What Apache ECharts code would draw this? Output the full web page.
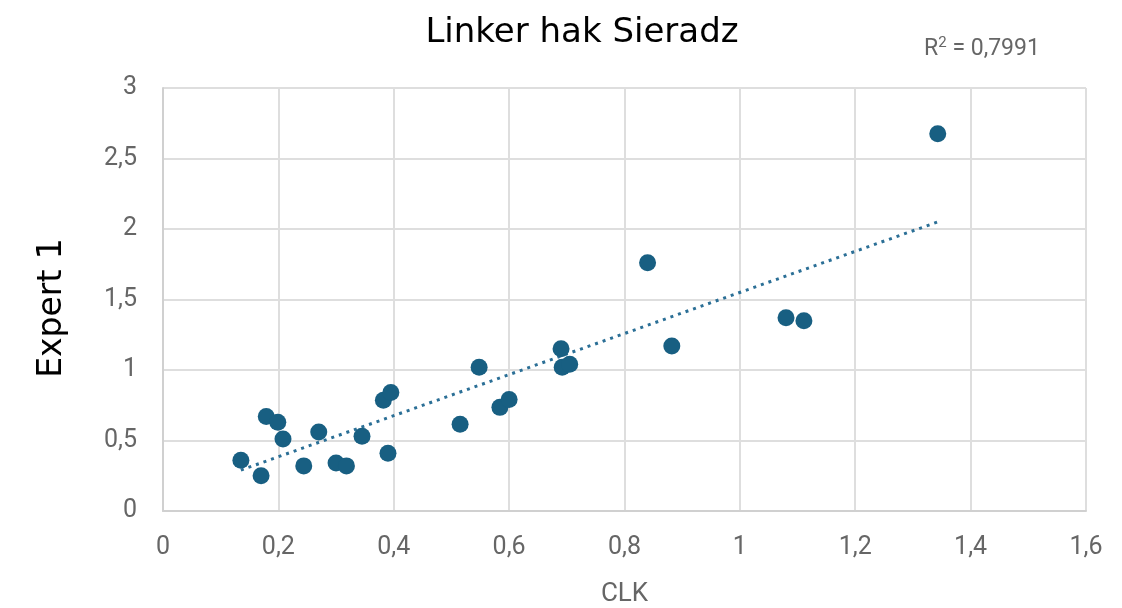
<!DOCTYPE html>
<html><head><meta charset="utf-8">
<script src="https://cdn.jsdelivr.net/npm/echarts@6/dist/echarts.min.js"></script>
<style>html,body{margin:0;padding:0;background:#fff}#c{width:1122px;height:608px}</style>
</head><body><div id="c"></div>
<script>
const clk = [0.135,0.170,0.179,0.199,0.208,0.244,0.270,0.300,0.318,0.345,0.390,0.382,0.395,0.515,0.548,0.584,0.600,0.690,0.692,0.705,0.840,0.882,1.080,1.111,1.343];
const expert1 = [0.36,0.25,0.67,0.63,0.51,0.32,0.56,0.34,0.32,0.53,0.41,0.785,0.84,0.615,1.02,0.735,0.79,1.15,1.02,1.04,1.76,1.17,1.37,1.35,2.675];
const trendX = [0.135,1.343];
const trendY = [0.29,2.05];
const xTicks = [0,0.2,0.4,0.6,0.8,1,1.2,1.4,1.6];
const yTicks = [0,0.5,1,1.5,2,2.5,3];
const fmt = v => String(+v.toFixed(2)).replace('.', ',');
const chart = echarts.init(document.getElementById('c'));
chart.setOption({
  animation:false,
  title:[{text:'Linker hak Sieradz',left:577,top:11,textAlign:'center',textStyle:{fontFamily:'DejaVu Sans',fontWeight:'normal',fontSize:34,color:'#000'}},
         {text:'R{s|2} = 0,7991',left:977,top:31,textAlign:'center',textStyle:{fontFamily:'Roboto',fontWeight:'normal',fontSize:23,color:'#666',
           rich:{s:{fontFamily:'Roboto',fontSize:15,color:'#666',verticalAlign:'top',padding:[0,0,12,0]}}}}],
  graphic:[{type:'text',rotation:Math.PI/2,style:{text:'Expert 1',x:0,y:0,font:'33px "DejaVu Sans"',fill:'#000',textAlign:'center',textVerticalAlign:'middle'},
    position:[52,308]}],
  grid:{left:163,right:36,top:88,bottom:97,containLabel:false,outerBoundsMode:'none'},
  xAxis:{type:'value',min:0,max:1.6,interval:0.2,name:'CLK',nameLocation:'middle',nameGap:70,
    nameTextStyle:{fontFamily:'Roboto',fontSize:26,color:'#666'},
    axisLine:{show:true,lineStyle:{color:'#d0d0d0',width:2}},axisTick:{show:false},
    axisLabel:{fontFamily:'Roboto',fontSize:25,color:'#666',margin:24,formatter:fmt},
    splitLine:{show:true,lineStyle:{color:'#dedede',width:2}}},
  yAxis:{type:'value',min:0,max:3,interval:0.5,
    axisLine:{show:true,lineStyle:{color:'#d0d0d0',width:2}},axisTick:{show:false},
    axisLabel:{fontFamily:'Roboto',fontSize:25,color:'#666',margin:26,formatter:fmt},
    splitLine:{show:true,lineStyle:{color:'#dedede',width:2}}},
  series:[
    {type:'line',data:trendX.map((x,i)=>[x,trendY[i]]),symbol:'none',lineStyle:{color:'#2b6f96',width:3,type:[3,5]},z:3},
    {type:'scatter',data:clk.map((x,i)=>[x,expert1[i]]),symbolSize:17,itemStyle:{color:'#185f82',opacity:1},z:4}
  ]
});
</script></body></html>
